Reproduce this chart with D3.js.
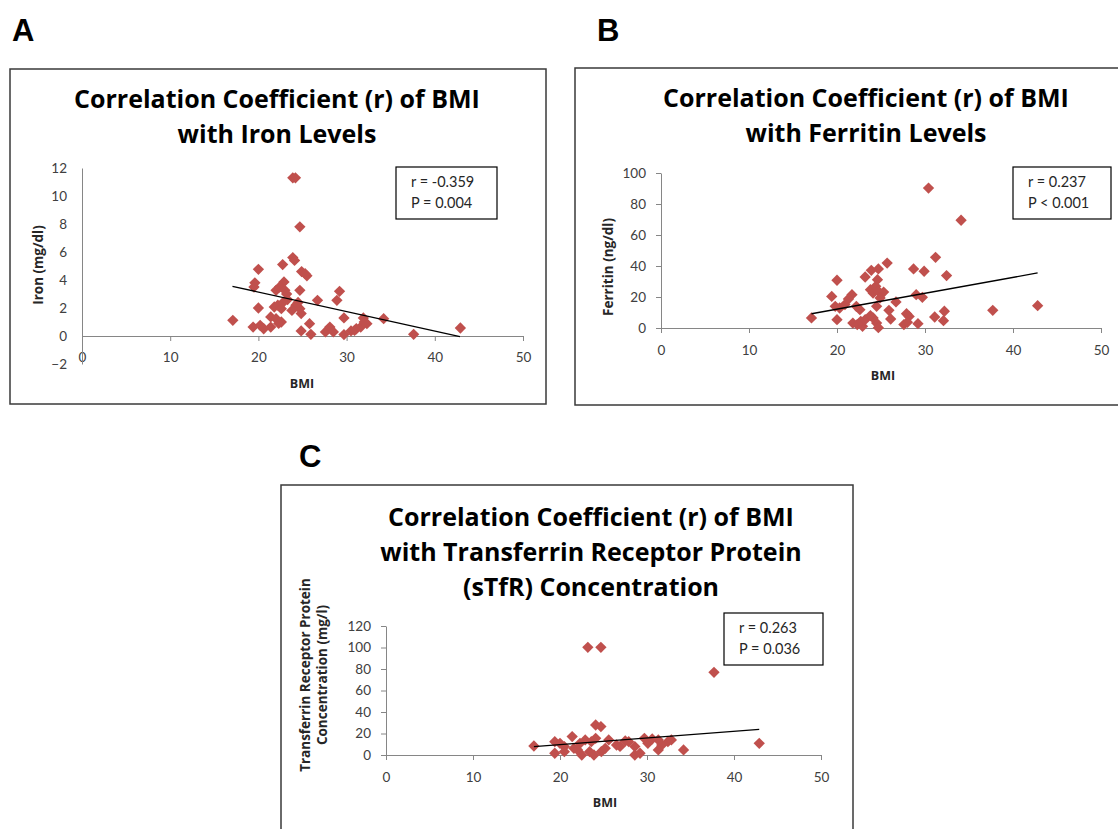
<!DOCTYPE html>
<html>
<head>
<meta charset="utf-8">
<script src="https://cdn.jsdelivr.net/npm/d3@7"></script>
<style>
  body { margin: 0; background: #fff; }
  text { font-family: Lato, "Open Sans", sans-serif; }
  .bold { font-family: "Open Sans", Lato, sans-serif; font-weight: bold; }
</style>
</head>
<body>
<div id="chart"></div>
<script>
// Panel A: BMI vs iron
const ironBMI   = [17.1, 23.9, 24.2, 24.7, 23.9, 24.1, 22.75, 20.0, 19.6, 19.5, 24.9, 25.3, 25.5, 24.7, 22.9, 22.4, 22.0, 23.0, 23.2, 26.7, 29.2, 28.9, 20.0, 21.8, 22.2, 22.6, 24.25, 23.8, 24.7, 24.85, 21.4, 22.0, 22.6, 29.7, 31.9, 34.2, 32.3, 19.4, 20.2, 20.6, 21.4, 24.85, 25.95, 25.8, 27.6, 28.1, 28.5, 29.7, 30.5, 31.1, 31.6, 37.6, 42.9, 22.3, 23.3, 24.5, 22.8, 32.0, 30.9];
const ironLevel = [1.12, 11.3, 11.3, 7.8, 5.6, 5.4, 5.1, 4.76, 3.8, 3.5, 4.6, 4.45, 4.3, 3.26, 3.86, 3.5, 3.26, 3.26, 3.0, 2.55, 3.19, 2.55, 2.0, 2.07, 2.2, 1.95, 2.2, 1.83, 1.95, 1.6, 1.36, 1.24, 1.0, 1.29, 1.29, 1.24, 0.88, 0.64, 0.76, 0.52, 0.64, 0.36, 0.12, 0.88, 0.29, 0.64, 0.29, 0.1, 0.36, 0.52, 0.64, 0.12, 0.57, 0.9, 2.6, 2.4, 2.4, 1.0, 0.4];
const ironTrend = [[17.06, 3.55], [42.85, -0.05]];

// Panel B: BMI vs ferritin
const ferrBMI   = [17.1, 30.4, 34.1, 31.2, 32.45, 29.9, 28.7, 25.7, 23.9, 24.7, 23.2, 24.6, 20.0, 19.4, 21.7, 21.3, 23.8, 24.1, 24.4, 24.7, 25.3, 24.9, 24.5, 26.7, 29.0, 29.7, 19.8, 20.3, 20.9, 22.2, 22.6, 25.9, 27.9, 28.2, 32.2, 31.1, 37.7, 42.8, 20.0, 21.8, 22.3, 22.9, 22.7, 23.2, 24.1, 24.5, 24.7, 26.1, 27.6, 28.0, 29.2, 32.1, 23.8];
const ferrLevel = [6.5, 90.3, 69.5, 45.6, 33.8, 36.6, 38.1, 41.9, 37.2, 38.1, 32.9, 31.2, 30.8, 20.4, 21.5, 18.7, 24.7, 22.6, 26.9, 23.7, 23.2, 19.4, 14.0, 16.8, 21.5, 19.8, 14.0, 12.9, 15.1, 14.0, 11.8, 11.4, 9.2, 7.5, 10.8, 7.1, 11.4, 14.4, 5.4, 3.2, 2.2, 1.1, 4.3, 5.4, 6.5, 3.2, 0.2, 5.8, 2.2, 3.7, 2.8, 4.7, 8.0];
const ferrTrend = [[17.1, 9.2], [42.8, 35.5]];

// Panel C: BMI vs sTfR
const stfrBMI   = [17.0, 23.2, 24.7, 37.7, 24.1, 24.7, 21.4, 19.4, 20.0, 20.5, 22.3, 22.9, 23.6, 24.1, 25.6, 26.5, 27.9, 28.6, 29.7, 30.1, 31.3, 32.4, 31.7, 34.2, 42.9, 19.4, 20.5, 22.5, 23.4, 23.9, 24.75, 28.6, 29.2, 31.3, 25.2, 21.6, 26.9, 27.5, 30.6, 32.8, 22.0];
const stfrLevel = [8.4, 100.2, 100.2, 76.9, 27.9, 26.4, 17.1, 12.4, 10.9, 7.8, 10.9, 14.0, 12.4, 15.5, 14.0, 9.3, 12.4, 7.8, 15.5, 10.9, 14.0, 12.4, 9.3, 4.7, 10.9, 1.6, 3.1, 0, 3.1, 0, 3.1, 0, 1.6, 4.7, 6.2, 6.2, 8, 13, 15, 14, 5];
const stfrTrend = [[17.0, 7.8], [42.9, 23.9]];

const xTicks = [0, 10, 20, 30, 40, 50];
const ironTicks = [-2, 0, 2, 4, 6, 8, 10, 12];
const ferrTicks = [0, 20, 40, 60, 80, 100];
const stfrTicks = [0, 20, 40, 60, 80, 100, 120];

const width = 1118, height = 829;
const markerColor = "#c0504d";
const axisColor = "#868686";

const svg = d3.select("#chart").append("svg")
    .attr("width", width)
    .attr("height", height);

svg.append("rect").attr("width", width).attr("height", height).attr("fill", "#fff");

const panels = [
  {
    letter: "A", letterAt: [12, 41],
    frame: [10, 69, 546, 404],
    title: ["Correlation Coefficient (r) of BMI", "with Iron Levels"],
    titleX: 277, titleY: [108, 143],
    xr: [82, 523], yr: [364, 168], yDomain: [-2, 12], yTicks: ironTicks, yTickSize: 0,
    bmi: ironBMI, vals: ironLevel, trend: ironTrend,
    yTitle: ["Iron  (mg/dl)"], yTitleX: [38], yTitleY: 265,
    bmiAt: [302, 388],
    legend: [396, 167, 497, 219], stats: ["r = -0.359", "P = 0.004"]
  },
  {
    letter: "B", letterAt: [597, 41],
    frame: [575, 68, 1130, 405],
    title: ["Correlation Coefficient (r) of BMI", "with Ferritin Levels"],
    titleX: 866, titleY: [107, 142],
    xr: [661, 1101], yr: [328, 173], yDomain: [0, 100], yTicks: ferrTicks, yTickSize: 5,
    bmi: ferrBMI, vals: ferrLevel, trend: ferrTrend,
    yTitle: ["Ferritin  (ng/dl)"], yTitleX: [608], yTitleY: 267,
    bmiAt: [883, 380],
    legend: [1013, 167, 1111, 219], stats: ["r = 0.237", "P < 0.001"]
  },
  {
    letter: "C", letterAt: [299, 467],
    frame: [281, 485, 853, 845],
    title: ["Correlation Coefficient (r) of BMI", "with Transferrin Receptor Protein", "(sTfR) Concentration"],
    titleX: 591, titleY: [526, 561, 596],
    xr: [386, 821], yr: [755, 626], yDomain: [0, 120], yTicks: stfrTicks, yTickSize: 5,
    bmi: stfrBMI, vals: stfrLevel, trend: stfrTrend,
    yTitle: ["Transferrin Receptor Protein", "Concentration  (mg/l)"], yTitleX: [305, 322], yTitleY: 675,
    bmiAt: [605, 807],
    legend: [724, 613, 823, 665], stats: ["r = 0.263", "P = 0.036"]
  }
];

const diamond = d3.symbol(d3.symbolSquare, 64);

panels.forEach(p => {
  const g = svg.append("g");

  g.append("text")
      .attr("x", p.letterAt[0]).attr("y", p.letterAt[1])
      .style("font-family", "'Liberation Sans', Arial, sans-serif")
      .attr("font-weight", "bold").attr("font-size", 31)
      .attr("fill", "#000")
      .text(p.letter);

  g.append("rect")
      .attr("x", p.frame[0]).attr("y", p.frame[1])
      .attr("width", p.frame[2] - p.frame[0]).attr("height", p.frame[3] - p.frame[1])
      .attr("fill", "#fff").attr("stroke", "#3a3a3a").attr("stroke-width", 1.5);

  g.selectAll(".title").data(p.title).join("text")
      .attr("class", "bold")
      .attr("x", p.titleX).attr("y", (d, i) => p.titleY[i])
      .attr("text-anchor", "middle")
      .attr("font-size", 25)
      .attr("fill", "#000")
      .text(d => d);

  const x = d3.scaleLinear().domain([0, 50]).range(p.xr);
  const y = d3.scaleLinear().domain(p.yDomain).range(p.yr);

  // x axis sits at value 0
  const xg = g.append("g")
      .attr("transform", `translate(0,${y(0)})`)
      .call(d3.axisBottom(x).tickValues(xTicks).tickSize(5).tickSizeOuter(0));
  xg.select(".domain").attr("stroke", axisColor);
  xg.selectAll(".tick line").attr("stroke", axisColor);
  xg.selectAll(".tick text").attr("font-size", 13.5).attr("fill", "#404040")
      .attr("y", p.yDomain[0] < 0 ? 16 : 17).attr("dy", "0.71em");

  const yg = g.append("g")
      .attr("transform", `translate(${x(0)},0)`)
      .call(d3.axisLeft(y).tickValues(p.yTicks).tickSize(p.yTickSize).tickPadding(15 - p.yTickSize).tickSizeOuter(0));
  yg.select(".domain").attr("stroke", axisColor);
  yg.selectAll(".tick line").attr("stroke", axisColor);
  yg.selectAll(".tick text").attr("font-size", 13.5).attr("fill", "#404040");

  g.append("text")
      .attr("class", "bold")
      .attr("x", p.bmiAt[0]).attr("y", p.bmiAt[1])
      .attr("text-anchor", "middle")
      .attr("font-size", 12.5)
      .attr("fill", "#262626")
      .text("BMI");

  p.yTitle.forEach((t, i) => {
    g.append("text")
        .attr("class", "bold")
        .attr("transform", `translate(${p.yTitleX[i]},${p.yTitleY}) rotate(-90)`)
        .attr("text-anchor", "middle")
        .attr("dy", "0.35em")
        .attr("font-size", 13.5)
        .attr("fill", "#262626")
        .text(t);
  });

  g.append("g").selectAll("path").data(p.bmi).join("path")
      .attr("transform", (d, i) => `translate(${x(d)},${y(p.vals[i])}) rotate(45)`)
      .attr("d", diamond)
      .attr("fill", markerColor);

  g.append("path")
      .datum(p.trend)
      .attr("fill", "none").attr("stroke", "#000").attr("stroke-width", 1.3)
      .attr("d", d3.line().x(d => x(d[0])).y(d => y(d[1])));

  g.append("rect")
      .attr("x", p.legend[0]).attr("y", p.legend[1])
      .attr("width", p.legend[2] - p.legend[0]).attr("height", p.legend[3] - p.legend[1])
      .attr("fill", "#fff").attr("stroke", "#000").attr("stroke-width", 1.2);

  g.selectAll(".stat").data(p.stats).join("text")
      .attr("x", p.legend[0] + 15).attr("y", (d, i) => p.legend[1] + 20 + i * 21)
      .attr("font-size", 14.5).attr("fill", "#262626")
      .text(d => d);
});
</script>
</body>
</html>
